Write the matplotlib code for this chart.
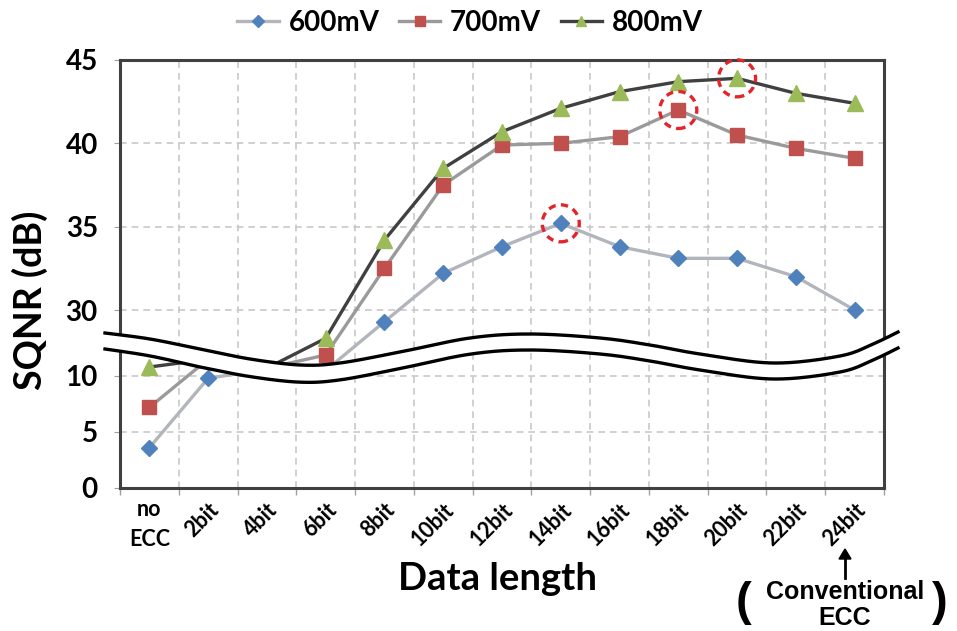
import numpy as np
import matplotlib
matplotlib.use("Agg")
import matplotlib.pyplot as plt
from matplotlib.lines import Line2D
from matplotlib.patches import Polygon, Circle
from matplotlib.transforms import ScaledTranslation

# ---------------- data ----------------
categories = ["no\nECC", "2bit", "4bit", "6bit", "8bit", "10bit", "12bit",
              "14bit", "16bit", "18bit", "20bit", "22bit", "24bit"]
series_names = ["600mV", "700mV", "800mV"]
sqnr_600 = [3.6, 9.8, 10.6, 10.5, 29.3, 32.2, 33.8, 35.2, 33.8, 33.1, 33.1, 32.0, 30.0]
sqnr_700 = [7.2, 11.5, 10.7, 27.3, 32.5, 37.5, 39.9, 40.0, 40.4, 42.0, 40.5, 39.7, 39.1]
sqnr_800 = [10.8, 11.5, 10.7, 28.3, 34.2, 38.5, 40.7, 42.1, 43.1, 43.7, 43.9, 43.0, 42.4]
ytick_values = [0, 5, 10, 30, 35, 40, 45]
ytick_labels = ["0", "5", "10", "30", "35", "40", "45"]

# ---------------- figure / layout ----------------
W, H = 957, 631
FONT = ["Lato", "DejaVu Sans"]
plt.rcParams["font.family"] = FONT
plt.rcParams["font.weight"] = "bold"

fig = plt.figure(figsize=(W / 100, H / 100), dpi=100)
L, R, T, B = 120, 884, 60, 488
ax = fig.add_axes([L / W, 1 - B / H, (R - L) / W, (B - T) / H])

# broken y scale (lower 0-VL, upper VH-45)
SL, SU, U45 = 11.2, 16.667, 428.0
VL, VH = 11.75, 27.3
UL, UH = VL * SL, U45 - (45 - VH) * SU

def fwd(v):
    v = np.asarray(v, dtype=float)
    return np.where(v <= VL, v * SL,
                    np.where(v >= VH, U45 - (45 - v) * SU,
                             UL + (v - VL) * (UH - UL) / (VH - VL)))

def inv(u):
    u = np.asarray(u, dtype=float)
    return np.where(u <= UL, u / SL,
                    np.where(u >= UH, 45 - (U45 - u) / SU,
                             VL + (u - UL) * (VH - VL) / (UH - UL)))

ax.set_yscale("function", functions=(fwd, inv))
ax.set_ylim(0, 45)
ax.set_xlim(-0.5, len(categories) - 0.5)

x = np.arange(len(categories))
styles = [
    dict(color="#B2B6BC", marker="D", mfc="#4F81BD", mec="#4F81BD", ms=8.5),
    dict(color="#9A9A9A", marker="s", mfc="#C0504D", mec="#C0504D", ms=10),
    dict(color="#404040", marker="^", mfc="#9BBB59", mec="#9BBB59", ms=11),
]
all_series = [sqnr_600, sqnr_700, sqnr_800]
for name, vals, st in zip(series_names, all_series, styles):
    ax.plot(x, vals, lw=2.4, label=name, zorder=3, **st)

# red dashed circles around each series' peak
for vals in all_series:
    k = int(np.argmax(vals))
    tr = fig.dpi_scale_trans + ScaledTranslation(x[k], vals[k], ax.transData)
    ax.add_artist(Circle((0, 0), 0.185, transform=tr, fill=False,
                         ec="#E3242B", lw=2.4, ls=(0, (2.2, 1.6)), zorder=4,
                         clip_on=False))

# ticks & grid
ax.set_yticks(ytick_values)
ax.set_yticklabels(ytick_labels)
ax.set_xticks(x)
ax.set_xticks(np.arange(-0.5, len(categories)), minor=True)
ax.set_xticklabels(categories)
ax.tick_params(axis="x", which="major", length=0, pad=8, labelsize=15.5)
ax.tick_params(axis="x", which="minor", length=5, color="#A0A0A0", width=1)
ax.tick_params(axis="y", which="major", length=4, color="#A0A0A0", pad=12,
               labelsize=20)
for lab in ax.get_xticklabels():
    lab.set_fontweight("bold")
    lab.set_rotation(45)
    lab.set_ha("right")
    lab.set_va("top")
    lab.set_rotation_mode("anchor")
first = ax.get_xticklabels()[0]
first.set_rotation(0)
first.set_ha("center")
first.set_linespacing(1.5)
for lab in ax.get_yticklabels():
    lab.set_fontweight("bold")

ax.grid(which="minor", axis="x", color="#C8C8C8", lw=1.2, ls=(0, (4, 3)))
ax.grid(which="major", axis="y", color="#C8C8C8", lw=1.2, ls=(0, (4, 3)))
ax.grid(which="major", axis="x", visible=False)
ax.set_axisbelow(True)
for sp in ax.spines.values():
    sp.set_color("#404040")
    sp.set_linewidth(2.2)

# ---------------- axis-break band (figure pixels) ----------------
def catmull(pts, n=20):
    pts = np.asarray(pts, float)
    P = np.vstack([pts[0], pts, pts[-1]])
    out = []
    for i in range(1, len(P) - 2):
        p0, p1, p2, p3 = P[i - 1], P[i], P[i + 1], P[i + 2]
        for t in np.linspace(0, 1, n, endpoint=False):
            t2, t3 = t * t, t * t * t
            out.append(0.5 * ((2 * p1) + (-p0 + p2) * t +
                              (2 * p0 - 5 * p1 + 4 * p2 - p3) * t2 +
                              (-p0 + 3 * p1 - 3 * p2 + p3) * t3))
    out.append(P[-2])
    return np.array(out)

band_top = [(105, 333), (150, 339), (200, 349), (250, 359), (300, 365),
            (340, 363), (400, 352), (470, 338), (530, 334), (600, 338),
            (650, 345), (700, 354), (773, 363), (840, 356), (873, 344),
            (898, 332)]
top = catmull(band_top)
thick = np.interp(top[:, 0], [105, 200, 320, 500, 898], [16, 18, 17, 16, 16])
bot = top + np.column_stack([np.zeros(len(top)), thick])

def tofig(p):
    p = np.asarray(p, float)
    return np.column_stack([p[:, 0] / W, 1 - p[:, 1] / H])

poly = np.vstack([tofig(top), tofig(bot[::-1])])
fig.add_artist(Polygon(poly, closed=True, fc="white", ec="none",
                       transform=fig.transFigure, zorder=10))
for c in (top, bot):
    f = tofig(c)
    fig.add_artist(Line2D(f[:, 0], f[:, 1], color="black", lw=2.4,
                          transform=fig.transFigure, zorder=11))

# ---------------- labels ----------------
fig.text(30 / W, 1 - 300 / H, "SQNR (dB)", rotation=90, ha="center",
         va="center", fontsize=27, fontweight="bold")
fig.text(497 / W, 1 - 579 / H, "Data length", ha="center", va="center",
         fontsize=27.5, fontweight="bold")

# conventional ECC annotation
ann_font = ["Liberation Sans", "DejaVu Sans"]
fig.add_artist(Line2D([845 / W, 845 / W], [1 - 578 / H, 1 - 556 / H],
                      color="black", lw=2, transform=fig.transFigure))
fig.add_artist(Polygon([[839 / W, 1 - 559 / H], [851 / W, 1 - 559 / H],
                        [845 / W, 1 - 549 / H]], closed=True, fc="black",
                       ec="black", transform=fig.transFigure))
fig.text(845 / W, 1 - 605 / H, "Conventional\nECC", ha="center", va="center",
         fontsize=18, fontweight="bold", family=ann_font, linespacing=1.1)
fig.text(744 / W, 1 - 603 / H, "(", ha="center", va="center", fontsize=34,
         fontweight="bold", family=ann_font)
fig.text(940 / W, 1 - 603 / H, ")", ha="center", va="center", fontsize=34,
         fontweight="bold", family=ann_font)

# legend
handles = [Line2D([0], [0], lw=2.4, **dict(st, ms=st["ms"] * 0.7)) for st in styles]
fig.legend(handles, series_names, loc="center", ncol=3,
           bbox_to_anchor=(470 / W, 1 - 23 / H), frameon=False,
           prop=dict(size=20, weight="bold"), handlelength=1.5,
           handletextpad=0.35, columnspacing=0.7)

fig.savefig("out.png", dpi=100)
